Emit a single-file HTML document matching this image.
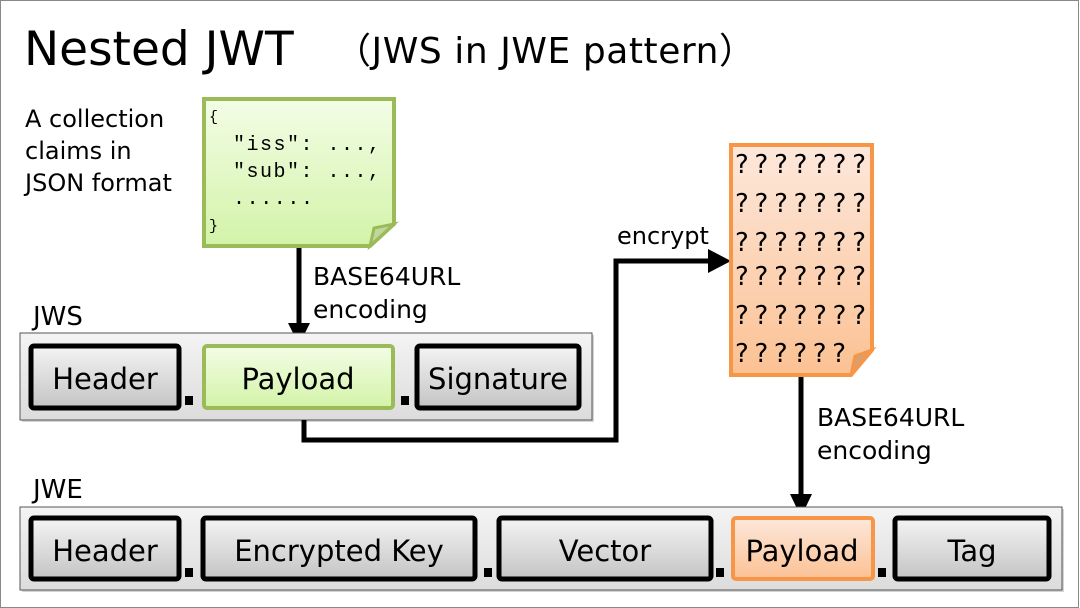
<!DOCTYPE html>
<html><head><meta charset="utf-8"><style>
html,body{margin:0;padding:0;background:#fff}
svg{display:block}
text{font-family:"DejaVu Sans","Liberation Sans",sans-serif;fill:#000}
.m{font-family:"Liberation Mono",monospace}
</style></head><body>
<svg width="1080" height="608" viewBox="0 0 1080 608" xmlns="http://www.w3.org/2000/svg">
<defs>
<linearGradient id="gr" x1="0" y1="0" x2="0" y2="1"><stop offset="0" stop-color="#f4f4f4"/><stop offset="1" stop-color="#c4c4c4"/></linearGradient>
<linearGradient id="gn" x1="0" y1="0" x2="0" y2="1"><stop offset="0" stop-color="#f3fde6"/><stop offset="1" stop-color="#d3f3a8"/></linearGradient>
<linearGradient id="or" x1="0" y1="0" x2="0" y2="1"><stop offset="0" stop-color="#fde8dc"/><stop offset="1" stop-color="#fbc193"/></linearGradient>
<linearGradient id="bg" x1="0" y1="0" x2="0" y2="1"><stop offset="0" stop-color="#f4f4f4"/><stop offset="1" stop-color="#dcdcdc"/></linearGradient>
</defs>
<rect x="0.5" y="0.5" width="1078" height="607" fill="#fff" stroke="#888" stroke-width="1"/>
<text x="24" y="65" font-size="47">Nested JWT</text>
<text x="335" y="63" font-size="36" textLength="420" lengthAdjust="spacing">（JWS in JWE pattern）</text>
<text x="25" y="127" font-size="24">A collection</text>
<text x="25" y="159" font-size="24">claims in</text>
<text x="25" y="191" font-size="24">JSON format</text>

<path d="M204 99 H394 V224 L370 246 H204 Z" fill="url(#gn)" stroke="#9bbb59" stroke-width="4"/>
<path d="M370 246 L374 228 L394 224 Z" fill="#c0d69a" stroke="#9bbb59" stroke-width="3"/>
<text class="m" x="209" y="121" font-size="15">{</text>
<text class="m" x="233" y="150" font-size="20" textLength="147">"iss": ...,</text>
<text class="m" x="233" y="177" font-size="20" textLength="147">"sub": ...,</text>
<text class="m" x="233" y="204" font-size="20" textLength="80">......</text>
<text class="m" x="209" y="230" font-size="15">}</text>

<line x1="299" y1="248" x2="299" y2="326" stroke="#000" stroke-width="5"/>
<path d="M288 323 H310 L299 345 Z"/>
<text x="313" y="285" font-size="25">BASE64URL</text>
<text x="313" y="318" font-size="25">encoding</text>

<text x="33" y="325" font-size="26">JWS</text>
<rect x="22" y="335" width="572" height="87" fill="#aaa" opacity="0.5"/>
<rect x="20" y="333" width="572" height="87" fill="url(#bg)" stroke="#555" stroke-width="1"/>
<rect x="31" y="346" width="148" height="62" rx="3" fill="url(#gr)" stroke="#000" stroke-width="5"/>
<text x="105" y="389" font-size="29" text-anchor="middle">Header</text>
<rect x="185" y="396" width="8" height="9"/>
<rect x="204" y="346" width="189" height="62" rx="3" fill="url(#gn)" stroke="#9bbb59" stroke-width="4"/>
<text x="298" y="389" font-size="29" text-anchor="middle">Payload</text>
<rect x="401" y="396" width="8" height="9"/>
<rect x="417" y="346" width="162" height="62" rx="3" fill="url(#gr)" stroke="#000" stroke-width="5"/>
<text x="498" y="389" font-size="29" text-anchor="middle">Signature</text>

<polyline points="304,420 304,440 616,440 616,261 712,261" fill="none" stroke="#000" stroke-width="5"/>
<path d="M708 249 L731 261 L708 273 Z"/>
<text x="617" y="244" font-size="24">encrypt</text>

<path d="M731 145 H872 V350 L851 375 H731 Z" fill="url(#or)" stroke="#f79646" stroke-width="4"/>
<path d="M851 375 L855 356 L872 350 Z" fill="#d8a070" stroke="#f79646" stroke-width="3"/>
<g font-size="26" class="m">
<text x="735" y="173" textLength="131">???????</text>
<text x="735" y="212" textLength="131">???????</text>
<text x="735" y="251" textLength="131">???????</text>
<text x="735" y="285" textLength="131">???????</text>
<text x="735" y="324" textLength="131">???????</text>
<text x="735" y="362" textLength="111">??????</text>
</g>

<line x1="801" y1="377" x2="801" y2="497" stroke="#000" stroke-width="5"/>
<path d="M790 494 H812 L801 517 Z"/>
<text x="817" y="426" font-size="25">BASE64URL</text>
<text x="817" y="459" font-size="25">encoding</text>

<text x="33" y="498" font-size="26">JWE</text>
<rect x="22" y="509" width="1042" height="83" fill="#aaa" opacity="0.5"/>
<rect x="20" y="507" width="1042" height="83" fill="url(#bg)" stroke="#555" stroke-width="1"/>
<rect x="31" y="518" width="148" height="61" rx="3" fill="url(#gr)" stroke="#000" stroke-width="5"/>
<text x="105" y="561" font-size="29" text-anchor="middle">Header</text>
<rect x="185" y="568" width="8" height="9"/>
<rect x="203" y="518" width="272" height="61" rx="3" fill="url(#gr)" stroke="#000" stroke-width="5"/>
<text x="339" y="561" font-size="29" text-anchor="middle">Encrypted Key</text>
<rect x="484" y="568" width="8" height="9"/>
<rect x="499" y="518" width="212" height="61" rx="3" fill="url(#gr)" stroke="#000" stroke-width="5"/>
<text x="605" y="561" font-size="29" text-anchor="middle">Vector</text>
<rect x="716" y="568" width="8" height="9"/>
<rect x="733" y="518" width="140" height="61" rx="3" fill="url(#or)" stroke="#f79646" stroke-width="4"/>
<text x="802" y="561" font-size="29" text-anchor="middle">Payload</text>
<rect x="878" y="568" width="8" height="9"/>
<rect x="895" y="518" width="154" height="61" rx="3" fill="url(#gr)" stroke="#000" stroke-width="5"/>
<text x="972" y="561" font-size="29" text-anchor="middle">Tag</text>
</svg>
</body></html>
